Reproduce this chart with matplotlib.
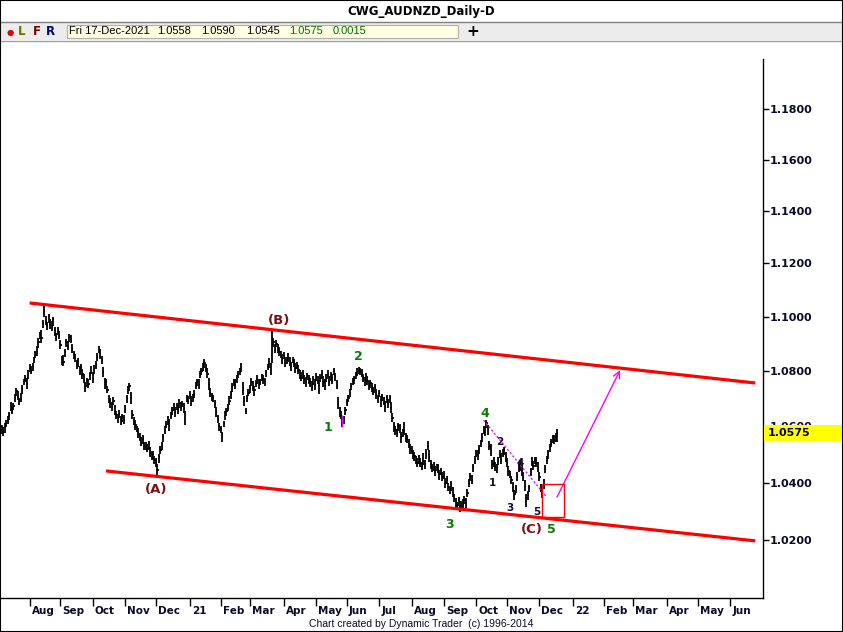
import numpy as np
import pandas as pd
import matplotlib
matplotlib.use('Agg')
import matplotlib.pyplot as plt
import matplotlib.transforms as mtransforms
from matplotlib.patches import Rectangle
from matplotlib.lines import Line2D
from matplotlib.ticker import FixedLocator, FixedFormatter, NullLocator

W, H = 843, 632

# daily bars from 2020-07-06, closes in pips above 1.0000
close_pips = [
    604, 590, 578, 596, 612, 622, 640, 668, 660, 672,
    700, 728, 710, 690, 698, 735, 762, 770, 752, 790,
    812, 800, 818, 842, 858, 870, 905, 932, 920, 975,
    1020, 985, 965, 998, 972, 960, 990, 945, 925, 950,
    930, 895, 840, 832, 870, 905, 890, 925, 915, 880,
    862, 848, 820, 835, 800, 815, 790, 768, 745, 760,
    752, 785, 800, 772, 808, 820, 852, 878, 860, 840,
    795, 748, 760, 730, 700, 682, 670, 690, 655, 640,
    628, 645, 615, 630, 622, 660, 700, 730, 745, 700,
    640, 620, 605, 590, 575, 560, 540, 555, 528, 530,
    520, 535, 505, 495, 500, 480, 470, 445, 490, 515,
    530, 560, 585, 605, 620, 600, 640, 655, 668, 650,
    672, 660, 685, 670, 680, 665, 640, 700, 695, 710,
    690, 705, 715, 745, 760, 750, 785, 800, 812, 830,
    810, 790, 750, 720, 705, 700, 680, 650, 625, 600,
    590, 565, 610, 640, 655, 665, 690, 715, 740, 760,
    750, 770, 785, 800, 810, 730, 690, 655, 700, 720,
    735, 760, 745, 730, 755, 770, 750, 760, 780, 770,
    760, 795, 815, 830, 800, 920, 905, 880, 900, 885,
    870, 860, 845, 855, 830, 840, 850, 835, 815, 840,
    830, 810, 820, 805, 790, 775, 790, 770, 760, 780,
    770, 760, 740, 770, 750, 780, 765, 735, 775, 790,
    760, 745, 775, 790, 760, 780, 765, 800, 780, 750,
    680, 650, 640, 615, 625, 660, 685, 700, 720, 745,
    760, 770, 785, 795, 805, 800, 790, 775, 760, 780,
    765, 745, 755, 740, 725, 740, 715, 700, 720, 690,
    705, 690, 670, 700, 680, 700, 665, 630, 600, 585,
    575, 600, 590, 560, 575, 585, 560, 555, 540, 520,
    515, 500, 495, 480, 470, 485, 470, 460, 475, 465,
    500, 530, 490, 465, 450, 460, 440, 455, 450, 430,
    440, 420, 425, 400, 410, 385, 375, 390, 365, 345,
    330, 320, 335, 310, 318, 325, 340, 330, 365, 400,
    420, 410, 455, 480, 505, 495, 520, 540, 560, 590,
    580, 610, 585, 530, 510, 465, 470, 455, 450, 480,
    500, 480, 505, 515, 490, 470, 440, 430, 410, 385,
    360, 380, 420, 450, 460, 440, 420, 390, 345, 355,
    380, 440, 475, 460, 480, 470, 455, 420, 380, 360,
    395, 450, 480, 500, 525, 540, 555, 550, 560, 575,
]

# high above close, in pips
up_pips = [
    12, 15, 18, 14, 10, 16, 12, 20, 14, 12,
    15, 10, 18, 12, 20, 14, 10, 16, 22, 12,
    14, 18, 12, 10, 16, 20, 15, 12, 30, 14,
    23, 18, 15, 12, 20, 25, 10, 18, 14, 12,
    16, 20, 15, 25, 12, 14, 18, 10, 16, 20,
    12, 15, 20, 14, 18, 12, 16, 22, 14, 15,
    20, 12, 18, 24, 14, 16, 12, 14, 22, 15,
    18, 25, 12, 16, 14, 18, 12, 15, 20, 14,
    16, 12, 20, 14, 18, 15, 12, 14, 10, 22,
    18, 14, 16, 12, 18, 14, 20, 12, 16, 14,
    18, 12, 20, 15, 12, 14, 16, 20, 12, 15,
    14, 12, 16, 12, 18, 25, 12, 14, 15, 20,
    12, 16, 14, 18, 12, 20, 15, 12, 14, 16,
    18, 12, 14, 16, 12, 20, 14, 12, 18, 12,
    16, 20, 25, 18, 14, 12, 16, 18, 14, 12,
    12, 14, 10, 16, 12, 14, 18, 12, 16, 12,
    20, 14, 16, 12, 20, 30, 18, 12, 14, 16,
    12, 14, 18, 16, 12, 14, 20, 12, 10, 16,
    14, 10, 12, 16, 30, 27, 16, 20, 12, 14,
    16, 12, 18, 14, 20, 12, 14, 16, 18, 12,
    14, 18, 12, 16, 14, 20, 12, 16, 18, 12,
    14, 16, 25, 12, 20, 14, 18, 25, 12, 14,
    20, 25, 12, 14, 22, 16, 25, 10, 14, 18,
    25, 20, 14, 16, 12, 10, 14, 12, 16, 12,
    14, 10, 12, 14, 10, 10, 16, 14, 18, 12,
    16, 14, 12, 16, 18, 12, 20, 14, 12, 20,
    12, 16, 20, 12, 18, 12, 22, 18, 14, 16,
    14, 12, 18, 20, 14, 30, 16, 12, 14, 18,
    14, 16, 12, 14, 16, 12, 18, 14, 30, 16,
    20, 18, 25, 16, 14, 12, 18, 12, 14, 16,
    12, 18, 14, 16, 12, 14, 12, 16, 18, 14,
    16, 12, 14, 12, 16, 18, 12, 16, 12, 14,
    12, 18, 12, 14, 10, 20, 12, 10, 14, 12,
    16, 12, 20, 18, 25, 14, 20, 16, 14, 12,
    14, 25, 12, 10, 18, 16, 20, 12, 14, 16,
    14, 12, 16, 14, 20, 25, 18, 20, 14, 16,
    12, 10, 14, 16, 12, 20, 16, 18, 16, 14,
    18, 12, 14, 16, 10, 14, 12, 18, 15, 15,
]

# low below close, in pips
down_pips = [
    14, 18, 12, 20, 16, 14, 18, 12, 16, 14,
    12, 20, 16, 14, 12, 18, 14, 12, 16, 20,
    16, 12, 18, 14, 12, 16, 20, 14, 16, 18,
    20, 16, 14, 22, 18, 12, 24, 16, 14, 18,
    14, 16, 20, 14, 18, 16, 12, 20, 14, 16,
    18, 14, 12, 20, 16, 14, 18, 12, 20, 16,
    14, 18, 12, 16, 20, 14, 16, 12, 18, 14,
    16, 14, 20, 12, 16, 18, 14, 12, 16, 14,
    18, 14, 12, 16, 14, 12, 16, 14, 18, 20,
    14, 16, 18, 12, 16, 14, 12, 18, 14, 16,
    12, 20, 16, 14, 18, 16, 14, 29, 20, 14,
    16, 18, 14, 12, 16, 18, 14, 16, 12, 18,
    14, 16, 20, 14, 12, 18, 35, 14, 16, 12,
    16, 18, 14, 12, 16, 14, 12, 16, 14, 18,
    14, 16, 18, 14, 16, 12, 14, 16, 14, 18,
    16, 21, 14, 16, 18, 12, 14, 16, 18, 14,
    16, 14, 12, 16, 14, 18, 16, 10, 14, 12,
    16, 14, 18, 20, 12, 16, 14, 12, 18, 16,
    14, 16, 12, 18, 14, 90, 18, 16, 14, 18,
    16, 14, 18, 12, 16, 14, 18, 16, 14, 12,
    16, 18, 14, 16, 18, 12, 14, 16, 18, 14,
    16, 18, 14, 20, 18, 16, 14, 18, 16, 14,
    18, 16, 14, 12, 16, 18, 14, 16, 18, 14,
    18, 16, 14, 18, 16, 20, 14, 12, 16, 14,
    12, 16, 14, 12, 16, 14, 12, 16, 14, 18,
    16, 14, 18, 16, 14, 12, 16, 18, 14, 20,
    16, 14, 18, 16, 14, 18, 16, 14, 20, 16,
    14, 18, 16, 20, 14, 16, 18, 14, 16, 18,
    14, 16, 18, 14, 16, 18, 14, 16, 14, 18,
    16, 14, 18, 16, 14, 18, 16, 14, 16, 20,
    14, 16, 14, 18, 14, 16, 14, 18, 16, 14,
    16, 14, 18, 13, 14, 16, 14, 18, 16, 14,
    16, 14, 18, 14, 16, 14, 18, 14, 16, 18,
    14, 16, 18, 14, 16, 18, 16, 14, 16, 18,
    14, 16, 14, 18, 16, 14, 18, 14, 16, 18,
    21, 18, 16, 14, 18, 16, 14, 18, 30, 16,
    14, 16, 18, 14, 16, 14, 18, 16, 14, 14,
    16, 18, 14, 16, 18, 14, 16, 14, 18, 30,
]

start_date = '2020-07-06'
n_slots = 520
price_ticks = [1.02, 1.04, 1.06, 1.08, 1.10, 1.12, 1.14, 1.16, 1.18]

last_date_txt = 'Fri 17-Dec-2021'
last_open = 1.0558
last_change = 0.0015

# analyst drawings (date, price)
upper_channel = [('2020-08-03', 1.1051), ('2022-06-24', 1.0756)]
lower_channel = [('2020-10-14', 1.0441), ('2022-06-24', 1.0197)]
wedge_line = [('2021-10-08', 1.0622), ('2021-12-08', 1.0349)]
target_arrow = [('2021-12-17', 1.0349), ('2022-02-16', 1.0803)]
box_dates = ('2021-12-03', '2021-12-24')
box_prices = (1.0280, 1.0395)
mark_bar = ('2021-05-27', 1.0597, 1.0640)

big_labels = [('(A)', '2020-12-01', 1.0377), ('(B)', '2021-03-29', 1.0987),
              ('(C)', '2021-11-24', 1.0238)]
green_labels = [('1', '2021-05-13', 1.0597), ('2', '2021-06-11', 1.0851),
                ('3', '2021-09-07', 1.0255), ('4', '2021-10-11', 1.0647),
                ('5', '2021-12-13', 1.0238)]
small_labels = [('1', '2021-10-18', 1.0398), ('2', '2021-10-25', 1.0544),
                ('3', '2021-11-03', 1.0311), ('4', '2021-11-12', 1.0469),
                ('5', '2021-11-29', 1.0297)]

cl = 1 + np.array(close_pips) / 10000
hi = cl + np.array(up_pips) / 10000
lo = cl - np.array(down_pips) / 10000
n = len(cl)
idx = np.arange(n)

dates = pd.bdate_range(start_date, periods=n_slots)


def xp(s):
    return dates.get_loc(pd.Timestamp(s))


def fx(px):
    return px / W


def fy(py):
    return 1 - py / H


fig = plt.figure(figsize=(W / 100, H / 100), dpi=100)
fig.patch.set_facecolor('white')
ax = fig.add_axes([0, fy(598), fx(763), (598 - 59) / H])
ax.set_facecolor('white')
ax.set_yscale('log')
ax.set_ylim(1.0002, 1.2001)
ax.set_xlim(-0.15, 519.25)

# price bars
ax.vlines(idx, lo, hi, colors='black', lw=1.3, zorder=3)
ax.hlines(cl, idx, idx + 0.8, colors='black', lw=1.3, zorder=3)

# channel lines
for line in (upper_channel, lower_channel):
    ax.plot([xp(d) for d, _ in line], [p for _, p in line], color='#ff0000', lw=2.3,
            solid_capstyle='butt', zorder=4)

ax.plot([xp(d) for d, _ in wedge_line], [p for _, p in wedge_line], color='#ff00ff',
        lw=1.0, ls=(0, (1.5, 1.5)), zorder=5)
ax.annotate('', xy=(xp(target_arrow[1][0]), target_arrow[1][1]),
            xytext=(xp(target_arrow[0][0]), target_arrow[0][1]),
            arrowprops=dict(arrowstyle='->', color='#ff00ff', lw=1.0, mutation_scale=12,
                            shrinkA=0, shrinkB=0), zorder=5)
bx0, bx1 = xp(box_dates[0]), xp(box_dates[1])
ax.add_patch(Rectangle((bx0, box_prices[0]), bx1 - bx0, box_prices[1] - box_prices[0],
                       fill=False, edgecolor='#ff0000', lw=1.0, zorder=5))
ax.vlines(xp(mark_bar[0]), mark_bar[1], mark_bar[2], colors='#ff00ff', lw=1.0, zorder=5)

for t, d, p in big_labels:
    ax.text(xp(d), p, t, ha='center', va='center', fontsize=9.5, fontweight='bold',
            color='#7a1010', family='DejaVu Sans', zorder=6)
for t, d, p in green_labels:
    ax.text(xp(d), p, t, ha='center', va='center', fontsize=9, fontweight='bold',
            color='#0a7a0a', family='DejaVu Sans', zorder=6)
for t, d, p in small_labels:
    ax.text(xp(d), p, t, ha='center', va='center', fontsize=7.5, fontweight='bold',
            color='#101030', family='DejaVu Sans', zorder=6)

# axes styling
for s in ('top', 'left'):
    ax.spines[s].set_visible(False)
ax.spines['right'].set_linewidth(1.0)
ax.spines['bottom'].set_linewidth(1.0)
ax.yaxis.tick_right()
ax.yaxis.set_major_locator(FixedLocator(price_ticks))
ax.yaxis.set_major_formatter(FixedFormatter([f'{p:.4f}' for p in price_ticks]))
ax.yaxis.set_minor_locator(NullLocator())
ax.tick_params(axis='y', direction='out', length=4, width=1, pad=1, labelsize=8,
               labelcolor='#0a0a28')
for lab in ax.get_yticklabels():
    lab.set_fontweight('bold')
    lab.set_family('DejaVu Sans')

month_idx = [i for i in range(1, n_slots)
             if dates[i].month != dates[i - 1].month and i < 518]
month_lab = [dates[i].strftime('%y') if dates[i].month == 1 else dates[i].strftime('%b')
             for i in month_idx]
ax.set_xticks(month_idx)
ax.set_xticklabels([])
ax.xaxis.set_minor_locator(NullLocator())
ax.tick_params(axis='x', direction='out', length=6, width=1)
lab_tr = mtransforms.offset_copy(
    mtransforms.blended_transform_factory(ax.transData, ax.transAxes),
    fig=fig, x=2, y=-13, units='dots')
for i, t in zip(month_idx, month_lab):
    ax.text(i, 0, t, transform=lab_tr, ha='left', va='center', fontsize=7.5,
            fontweight='bold', color='#0a0a28', family='DejaVu Sans')

# last price box on the price axis (covers the 1.0600 label as in the source)
fig.canvas.draw()
yc = ax.transData.transform((0, cl[-1]))[1]
xr = ax.transAxes.transform((1, 0))[0]
fig.patches.append(Rectangle((xr + 0.5, yc - 8), W - xr, 16, facecolor='#ffff00',
                             edgecolor='none', transform=mtransforms.IdentityTransform(),
                             figure=fig, zorder=10))
fig.text((xr + 5) / W, yc / H, f'{cl[-1]:.4f}', ha='left', va='center', fontsize=8,
         fontweight='bold', color='black', family='DejaVu Sans', zorder=11)

# header
fig.text(fx(421), fy(11), 'CWG_AUDNZD_Daily-D', ha='center', va='center', fontsize=8.5,
         fontweight='bold', color='black', family='DejaVu Sans')
fig.add_artist(Rectangle((0, fy(40)), 1, (40 - 22) / H, transform=fig.transFigure,
                         facecolor='#ececec', edgecolor='none', zorder=1))
fig.add_artist(Line2D([0, 1], [fy(21.5)] * 2, transform=fig.transFigure, color='#808080', lw=1))
fig.add_artist(Line2D([0, 1], [fy(40.5)] * 2, transform=fig.transFigure, color='#a0a0a0', lw=1))
fig.add_artist(Rectangle((fx(67), fy(38)), fx(458) - fx(67), 13 / H, transform=fig.transFigure,
                         facecolor='#ffffe1', edgecolor='#b0b0b0', lw=0.8, zorder=2))
fig.text(fx(10), fy(32), '\u25cf', ha='center', va='center', fontsize=6, color='#e00000',
         family='DejaVu Sans', zorder=3)
for t, x, c in [('L', 21.5, '#707000'), ('F', 36.5, '#800000'), ('R', 50.5, '#000080')]:
    fig.text(fx(x), fy(31.5), t, ha='center', va='center', fontsize=8.5, fontweight='bold',
             color=c, family='DejaVu Sans', zorder=3)
hdr = [(last_date_txt, 69, 'black'), (f'{last_open:.4f}', 157, 'black'),
       (f'{hi[-1]:.4f}', 201, 'black'), (f'{lo[-1]:.4f}', 246, 'black'),
       (f'{cl[-1]:.4f}', 289, '#007000'), (f'{last_change:.4f}', 333, '#007000')]
for t, x, c in hdr:
    fig.text(fx(x), fy(31.5), t, ha='left', va='center', fontsize=8, color=c,
             family='Liberation Sans', zorder=3)
fig.text(fx(473), fy(31.5), '+', ha='center', va='center', fontsize=11, fontweight='bold',
         color='black', family='DejaVu Sans', zorder=3)

# footer and frame
fig.text(fx(421), fy(624), 'Chart created by Dynamic Trader  (c) 1996-2014', ha='center',
         va='center', fontsize=7.5, color='#0a0a28', family='Liberation Sans')
fig.add_artist(Rectangle((0, 0), 1, 1, transform=fig.transFigure, fill=False,
                         edgecolor='black', lw=1.5, zorder=20))

fig.savefig('out.png', dpi=100)
